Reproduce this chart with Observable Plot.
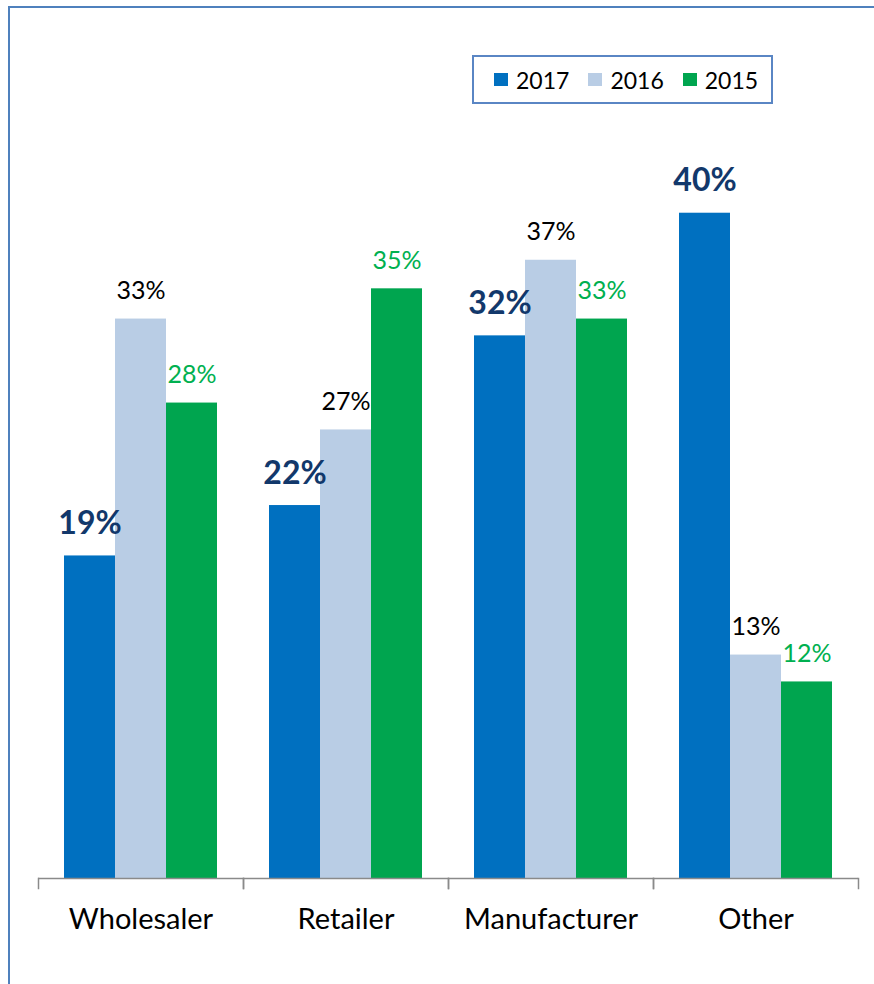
<!DOCTYPE html>
<html>
<head>
<meta charset="utf-8">
<script src="https://cdn.jsdelivr.net/npm/d3@7"></script>
<script src="https://cdn.jsdelivr.net/npm/@observablehq/plot@0.6"></script>
<style>
  html, body { margin: 0; padding: 0; background: #fff; overflow: hidden; }
  #wrap { position: relative; width: 874px; height: 984px; font-family: Lato, "Open Sans", sans-serif; }
  #border { position: absolute; left: 8px; top: 6px; width: 900px; height: 1000px;
            border-left: 2px solid #4f81bd; border-top: 2px solid #4f81bd; box-sizing: border-box; pointer-events: none; }
  #legend { position: absolute; left: 472px; top: 55px; width: 301px; height: 49px; box-sizing: border-box;
            border: 2px solid #5a86c4; display: flex; align-items: center; padding-left: 20px; background: #fff; }
  .item { display: flex; align-items: center; margin-right: 19px; font-size: 23px; color: #000; }
  .sw { width: 14px; height: 13px; margin-right: 8px; }
  #chart { position: absolute; left: 0; top: 0; }
</style>
</head>
<body>
<div id="wrap">
  <div id="chart"></div>
  <div id="border"></div>
  <div id="legend"></div>
</div>
<script>
const categories = ["Wholesaler", "Retailer", "Manufacturer", "Other"];
const series = ["2017", "2016", "2015"];
const values2017 = [19.2, 22.2, 32.3, 39.6];
const values2016 = [33.3, 26.7, 36.8, 13.3];
const values2015 = [28.3, 35.1, 33.3, 11.7];
const colors = ["#0070c0", "#b9cde5", "#00a54f"];

const seriesValues = [values2017, values2016, values2015];
const data = categories.flatMap((c, i) =>
  series.map((s, j) => ({category: c, series: s, value: seriesValues[j][i]}))
);
const fmt = d => Math.round(d.value) + "%";

const chart = Plot.plot({
  width: 874,
  height: 984,
  marginLeft: 38,
  marginRight: 16,
  marginTop: 38,
  marginBottom: 106,
  style: {fontFamily: "Lato, 'Open Sans', sans-serif", background: "transparent"},
  fx: {domain: categories, paddingInner: 0, paddingOuter: 0, label: null},
  x: {domain: series, paddingInner: 0, paddingOuter: 0.5, axis: null},
  y: {domain: [0, 50], axis: null},
  color: {domain: series, range: colors},
  marks: [
    Plot.barY(data, {fx: "category", x: "series", y: "value", fill: "series"}),
    Plot.ruleY([0], {stroke: "#8a8a8a", strokeWidth: 1.5}),
    Plot.frame({anchor: "left", stroke: "#8a8a8a", strokeWidth: 1.5, insetTop: 840, insetBottom: -10}),
    Plot.frame({anchor: "right", stroke: "#8a8a8a", strokeWidth: 1.5, insetTop: 840, insetBottom: -10}),
    Plot.axisFx({anchor: "bottom", tickSize: 0, tickPadding: 30, fontSize: 29, label: null, fill: "#000"}),
    Plot.text(data.filter(d => d.series === "2017"), {
      fx: "category", x: "series", y: "value", text: fmt, lineAnchor: "bottom", dy: -22,
      fontSize: 32, fontWeight: "bold", fill: "#12386b"
    }),
    Plot.text(data.filter(d => d.series === "2016"), {
      fx: "category", x: "series", y: "value", text: fmt, lineAnchor: "bottom", dy: -20,
      fontSize: 25, fill: "#000"
    }),
    Plot.text(data.filter(d => d.series === "2015"), {
      fx: "category", x: "series", y: "value", text: fmt, lineAnchor: "bottom", dy: -20,
      fontSize: 25, fill: "#00b050"
    })
  ]
});
document.getElementById("chart").appendChild(chart);

const legend = document.getElementById("legend");
series.forEach((s, i) => {
  const item = document.createElement("div");
  item.className = "item";
  const sw = document.createElement("div");
  sw.className = "sw";
  sw.style.background = colors[i];
  const t = document.createElement("span");
  t.textContent = s;
  item.appendChild(sw);
  item.appendChild(t);
  legend.appendChild(item);
});
</script>
</body>
</html>
